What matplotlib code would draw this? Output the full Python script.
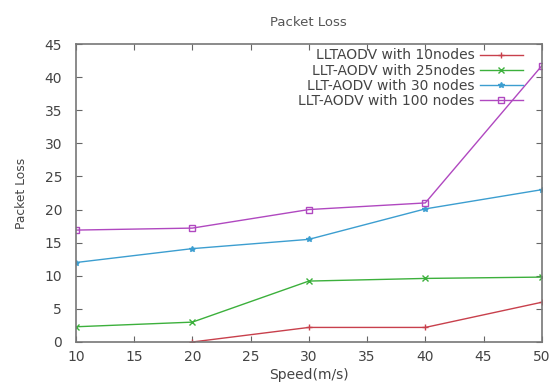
import numpy as np
import matplotlib.pyplot as plt

speed = [10, 20, 30, 40, 50]
speed_10 = [20, 30, 40, 50]
loss_10 = [0.0, 2.2, 2.2, 6.0]
loss_25 = [2.3, 3.0, 9.2, 9.6, 9.8]
loss_30 = [12.0, 14.1, 15.5, 20.1, 23.0]
loss_100 = [16.9, 17.2, 20.0, 21.0, 41.7]

labels = ["LLTAODV with 10nodes", "LLT-AODV with 25nodes",
          "LLT-AODV with 30 nodes", "LLT-AODV with 100 nodes"]

txt = "#444444"
plt.rcParams['font.family'] = 'DejaVu Sans'
plt.rcParams['text.color'] = txt

fig = plt.figure(figsize=(5.5, 3.86), dpi=100)
ax = fig.add_axes([0.138, 0.114, 0.847, 0.772])

ax.plot(speed_10, loss_10, color="#c8404c", marker="+", ms=5, lw=1, label=labels[0])
ax.plot(speed, loss_25, color="#3cb03c", marker="x", ms=4, lw=1, label=labels[1])
ax.plot(speed, loss_30, color="#3c9ed0", marker="*", ms=4, lw=1, label=labels[2])
ax.plot(speed, loss_100, color="#b048c0", marker="s", ms=4, mfc="none", lw=1, label=labels[3])

ax.set_xlim(10, 50)
ax.set_ylim(0, 45)
ax.set_xticks(np.arange(10, 51, 5))
ax.set_yticks(np.arange(0, 46, 5))
ax.tick_params(direction="in", top=True, right=True, length=4, labelsize=10,
               colors="#666666", labelcolor=txt, pad=6)
ax.tick_params(axis="y", pad=10)
for s in ax.spines.values():
    s.set_color("#777777")
    s.set_linewidth(1.2)

ax.set_title("Packet Loss", fontsize=9.5, color="#555555", pad=13)
ax.set_xlabel("Speed(m/s)", fontsize=10, color=txt, labelpad=3)
ax.set_ylabel("Packet Loss", fontsize=8.8, color=txt, labelpad=12)

ax.legend(loc="upper right", frameon=False, markerfirst=False, fontsize=10,
          handlelength=3.1, handletextpad=0.35, labelspacing=0.08,
          borderpad=0, borderaxespad=0, bbox_to_anchor=(0.959, 0.985))

fig.savefig("out.png", dpi=100)
